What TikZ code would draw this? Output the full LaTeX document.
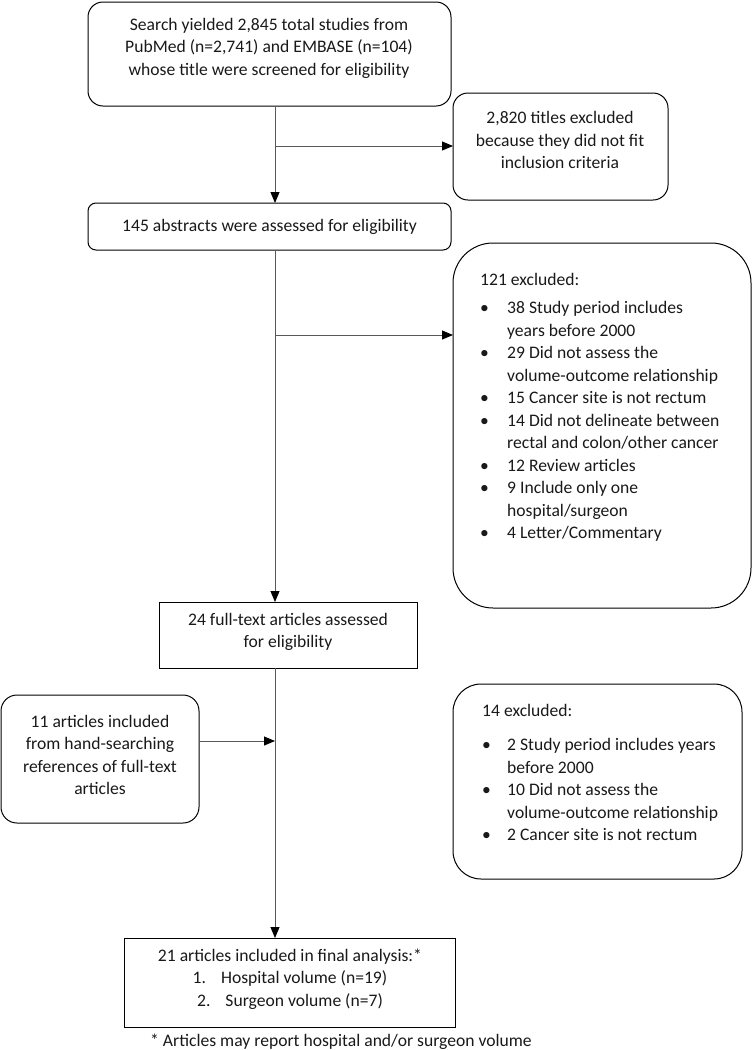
\documentclass[tikz,border=0pt]{standalone}
\usepackage{fontspec}
\setmainfont{Carlito}
\usetikzlibrary{arrows.meta}
\begin{document}
\begin{tikzpicture}[x=1pt,y=-1pt,
  box/.style={draw=black, line width=1pt, anchor=north west, inner sep=0pt, outer sep=0pt},
  txt/.style={inner sep=0pt, font=\fontsize{17.6}{22.5}\selectfont, align=center, text=black!90},
  conn/.style={draw=black!65, line width=0.9pt},
  arr/.style={conn, -{Triangle[length=11pt,width=9pt,fill=black,color=black]}}]
\useasboundingbox (0,0) rectangle (752,1050);
% boxes
\node[box, rounded corners=15pt, minimum width=363pt, minimum height=104pt] (b1) at (88,2) {};
\node[box, rounded corners=15pt, minimum width=215pt, minimum height=107pt] (b2) at (453,93) {};
\node[box, rounded corners=8pt, minimum width=363pt, minimum height=47pt] (b3) at (88,203) {};
\node[box, rounded corners=40pt, minimum width=298pt, minimum height=365pt] (b4) at (453,243) {};
\node[box, minimum width=258pt, minimum height=66pt] (b5) at (159,602) {};
\node[box, rounded corners=16pt, minimum width=198pt, minimum height=128pt] (b6) at (1,695) {};
\node[box, rounded corners=28pt, minimum width=289pt, minimum height=195pt] (b7) at (453,684) {};
\node[box, minimum width=331pt, minimum height=89pt] (b8) at (124,938) {};
% texts
\node[txt] (t1) at (269,48) {Search yielded 2,845 total studies from\\PubMed (n=2,741) and EMBASE (n=104)\\whose title were screened for eligibility};
\node[txt] (t2) at (560,140) {2,820 titles excluded\\because they did not fit\\inclusion criteria};
\node[txt] (t3) at (b3.center) {145 abstracts were assessed for eligibility};
\node[txt, anchor=north west, align=left] (t4) at (480,270) {\begin{tabular}{@{}p{27pt}@{}l@{}}
\multicolumn{2}{@{}l@{}}{121 excluded:}\\[5.5pt]
\textbullet & 38 Study period includes\\
 & years before 2000\\
\textbullet & 29 Did not assess the\\
 & volume-outcome relationship\\
\textbullet & 15 Cancer site is not rectum\\
\textbullet & 14 Did not delineate between\\
 & rectal and colon/other cancer\\
\textbullet & 12 Review articles\\
\textbullet & 9 Include only one\\
 & hospital/surgeon\\
\textbullet & 4 Letter/Commentary
\end{tabular}};
\node[txt] (t5) at (288,632) {24 full-text articles assessed\\for eligibility};
\node[txt] (t6) at (100,755) {11 articles included\\from hand-searching\\references of full-text\\articles};
\node[txt, anchor=north west, align=left] (t7) at (482,701) {\begin{tabular}{@{}p{25pt}@{}l@{}}
\multicolumn{2}{@{}l@{}}{14 excluded:}\\[11.5pt]
\textbullet & 2 Study period includes years\\
 & before 2000\\
\textbullet & 10 Did not assess the\\
 & volume-outcome relationship\\
\textbullet & 2 Cancer site is not rectum
\end{tabular}};
\node[txt] (t8) at (290,979) {21 articles included in final analysis:*\\1.\hspace{15pt}Hospital volume (n=19)\\2.\hspace{15pt}Surgeon volume (n=7)};
\node[txt] (fn) at (341,1042) {* Articles may report hospital and/or surgeon volume};
% connectors
\coordinate (j1) at (275,146);
\coordinate (j2) at (275,335);
\coordinate (j3) at (275,741);
\draw[arr] (b1.south -| j1) -- (b3.north -| j1);
\draw[arr] (j1) -- (j1 -| b2.west);
\draw[arr] (b3.south -| j2) -- (b5.north -| j2);
\draw[arr] (j2) -- (j2 -| b4.west);
\draw[arr] (b5.south -| j3) -- (b8.north -| j3);
\draw[arr] (j3 -| b6.east) -- (j3);
\end{tikzpicture}
\end{document}
